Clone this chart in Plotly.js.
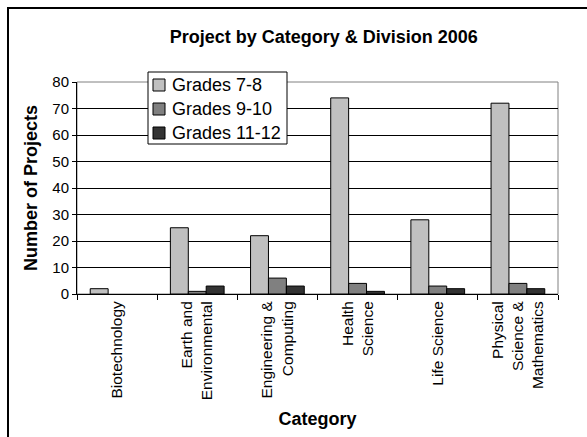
<!DOCTYPE html>
<html>
<head>
<meta charset="utf-8">
<script src="https://cdn.plot.ly/plotly-3.0.1.min.js"></script>
<style>
  html, body { margin: 0; padding: 0; background: #fff; }
  #chart { width: 587px; height: 437px; }
</style>
</head>
<body>
<div id="chart"></div>
<script>
const categories = [
  "Biotechnology",
  "Earth and<br>Environmental",
  "Engineering &<br>Computing",
  "Health<br>Science",
  "Life Science",
  "Physical<br>Science &<br>Mathematics"
];
const seriesNames = ["Grades 7-8", "Grades 9-10", "Grades 11-12"];
const grades78 = [2, 25, 22, 74, 28, 72];
const grades910 = [0, 1, 6, 4, 3, 4];
const grades1112 = [0, 3, 3, 1, 2, 2];
const yTicks = [0, 10, 20, 30, 40, 50, 60, 70, 80];

const colors = ["#C0C0C0", "#808080", "#333333"];
const seriesValues = [grades78, grades910, grades1112];

const traces = seriesValues.map((vals, i) => ({
  type: "bar",
  name: seriesNames[i],
  x: categories,
  y: vals,
  marker: {
    color: colors[i],
    line: { color: "#000", width: vals.map(v => (v === 0 ? 0 : 1)) }
  },
  showlegend: false,
  hoverinfo: "x+y+name"
}));

const font = "'Liberation Sans', Arial, Helvetica, sans-serif";

// plot-area geometry in pixels (for converting legend box placement to paper units)
const PL = 77, PR = 558, PT = 82, PB = 294;
const px = v => (v - PL) / (PR - PL);
const py = v => (PB - v) / (PB - PT);

// legend built from seriesNames / colors
const legLeft = 148, legRight = 287, legTop = 72, legBottom = 144;
const rowY = [85, 109, 133];
const legendShapes = [{
  type: "rect", xref: "paper", yref: "paper",
  x0: px(legLeft), x1: px(legRight), y0: py(legBottom), y1: py(legTop),
  fillcolor: "#fff", line: { color: "#000", width: 1 }, layer: "above"
}];
const legendAnnotations = [];
seriesNames.forEach((name, i) => {
  legendShapes.push({
    type: "rect", xref: "paper", yref: "paper",
    x0: px(153), x1: px(165), y0: py(rowY[i] + 6), y1: py(rowY[i] - 6),
    fillcolor: colors[i], line: { color: "#000", width: 1 }, layer: "above"
  });
  legendAnnotations.push({
    xref: "paper", yref: "paper",
    x: px(170), y: py(rowY[i]),
    xanchor: "left", yanchor: "middle",
    text: name, showarrow: false,
    font: { family: font, size: 18, color: "#000" }
  });
});

const layout = {
  width: 587,
  height: 437,
  margin: { l: PL, r: 587 - PR, t: PT, b: 437 - PB, pad: 0 },
  paper_bgcolor: "#fff",
  plot_bgcolor: "#fff",
  font: { family: font, color: "#000", size: 15 },
  barmode: "group",
  bargap: 0.33,
  bargroupgap: 0,
  showlegend: false,
  title: {
    text: "<b>Project by Category & Division 2006</b>",
    font: { family: font, size: 18, color: "#000" },
    xref: "paper", x: 0.513, xanchor: "center",
    yref: "container", y: 1 - 37 / 437, yanchor: "middle"
  },
  xaxis: {
    type: "category",
    tickangle: -90,
    tickson: "boundaries",
    ticks: "outside",
    ticklen: 5,
    tickcolor: "#000",
    showline: true,
    linecolor: "#000",
    linewidth: 1,
    showgrid: false,
    tickfont: { family: font, size: 15.5, color: "#000" },
    title: { text: "<b>Category</b>", font: { family: font, size: 18, color: "#000" }, standoff: 13 },
    automargin: false
  },
  yaxis: {
    range: [0, 80],
    tickvals: yTicks,
    ticktext: yTicks.map(String),
    ticks: "outside",
    ticklen: 4,
    tickcolor: "#000",
    showline: true,
    linecolor: "#000",
    linewidth: 1,
    showgrid: true,
    gridcolor: "#000",
    gridwidth: 1,
    zeroline: false,
    tickfont: { family: font, size: 15, color: "#000" },
    title: { text: "<b>Number of Projects</b>", font: { family: font, size: 18, color: "#000" }, standoff: 10 },
    automargin: false
  },
  annotations: legendAnnotations,
  shapes: [
    {
      type: "rect", xref: "paper", yref: "paper",
      x0: 0, x1: 1, y0: 0, y1: 1,
      line: { color: "#808080", width: 1 }, layer: "below"
    },
    {
      type: "rect", xref: "paper", yref: "paper",
      x0: px(8), x1: 1.5,
      y0: -1.5, y1: py(8),
      line: { color: "#000", width: 2 }, layer: "below"
    }
  ].concat(legendShapes)
};

Plotly.newPlot("chart", traces, layout, { displayModeBar: false, staticPlot: true });
</script>
</body>
</html>
